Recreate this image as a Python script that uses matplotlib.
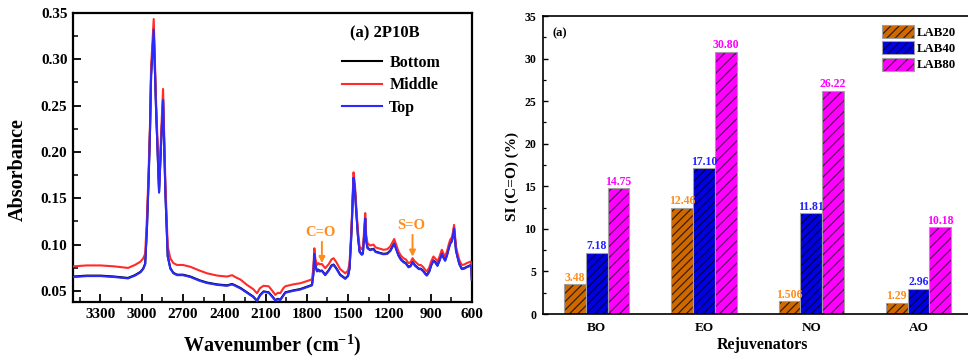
import matplotlib
matplotlib.use("Agg")
import matplotlib.pyplot as plt
from matplotlib.colors import to_rgba
from matplotlib.ticker import MultipleLocator

plt.rcParams['font.family'] = ['Liberation Serif', 'DejaVu Serif']
plt.rcParams['font.weight'] = 'bold'
plt.rcParams['axes.labelweight'] = 'bold'
plt.rcParams['hatch.linewidth'] = 0.9
plt.rcParams['mathtext.fontset'] = 'custom'
plt.rcParams['mathtext.rm'] = 'Liberation Serif:bold'
plt.rcParams['mathtext.bf'] = 'Liberation Serif:bold'
plt.rcParams['mathtext.it'] = 'Liberation Serif:bold:italic'

# ---------------- FTIR spectra (left panel) ----------------
wavenumber = [3500, 3400, 3300, 3200, 3100, 3050, 3010, 2990, 2975, 2962, 2950, 2940,
              2932, 2913, 2896, 2874, 2859, 2845, 2828, 2811, 2792, 2770, 2743, 2700,
              2646, 2580, 2525, 2450, 2380, 2343, 2320, 2280, 2235, 2190, 2162, 2140,
              2114, 2077, 2050, 2029, 2010, 1993, 1970, 1956, 1900, 1847, 1790, 1762,
              1752, 1745, 1738, 1726, 1715, 1707, 1690, 1666, 1640, 1620, 1605, 1585,
              1557, 1520, 1500, 1489, 1478, 1472, 1460, 1450, 1440, 1428, 1416, 1400,
              1392, 1383, 1375, 1368, 1358, 1340, 1315, 1300, 1278, 1242, 1215, 1193,
              1175, 1164, 1150, 1133, 1115, 1097, 1080, 1060, 1045, 1031, 1015, 1000,
              985, 971, 955, 940, 927, 910, 895, 879, 865, 850, 835, 818,
              805, 794, 780, 768, 758, 745, 735, 729, 722, 715, 704, 690,
              673, 655, 637, 620, 608, 603, 600]

middle_abs = [0.0765, 0.0775, 0.0775, 0.0765, 0.0748, 0.0780, 0.0815, 0.0850, 0.0900, 0.1300, 0.1800, 0.2300,
              0.2920, 0.3435, 0.2560, 0.1630, 0.2200, 0.2680, 0.1660, 0.0980, 0.0850, 0.0800, 0.0780, 0.0780,
              0.0760, 0.0720, 0.0690, 0.0665, 0.0655, 0.0670, 0.0650, 0.0620, 0.0565, 0.0520, 0.0475, 0.0530,
              0.0555, 0.0550, 0.0500, 0.0457, 0.0480, 0.0475, 0.0530, 0.0550, 0.0570, 0.0583, 0.0610, 0.0626,
              0.0750, 0.0960, 0.0850, 0.0780, 0.0800, 0.0788, 0.0790, 0.0745, 0.0790, 0.0840, 0.0853, 0.0810,
              0.0735, 0.0690, 0.0720, 0.0800, 0.1100, 0.1300, 0.1780, 0.1650, 0.1410, 0.1150, 0.0980, 0.0950,
              0.0960, 0.1150, 0.1340, 0.1100, 0.1015, 0.0990, 0.1000, 0.0970, 0.0960, 0.0944, 0.0950, 0.0980,
              0.1030, 0.1060, 0.1000, 0.0925, 0.0880, 0.0853, 0.0840, 0.0800, 0.0810, 0.0853, 0.0820, 0.0800,
              0.0780, 0.0780, 0.0760, 0.0730, 0.0710, 0.0750, 0.0820, 0.0871, 0.0850, 0.0817, 0.0870, 0.0944,
              0.0900, 0.0871, 0.0930, 0.1000, 0.1050, 0.1080, 0.1150, 0.1213, 0.1100, 0.0980, 0.0907, 0.0830,
              0.0780, 0.0785, 0.0800, 0.0810, 0.0817, 0.0780, 0.0655]

top_abs = [0.0650, 0.0660, 0.0660, 0.0650, 0.0635, 0.0665, 0.0700, 0.0735, 0.0790, 0.1180, 0.1700, 0.2220,
           0.2820, 0.3320, 0.2460, 0.1560, 0.2100, 0.2560, 0.1550, 0.0870, 0.0740, 0.0690, 0.0670, 0.0670,
           0.0650, 0.0610, 0.0585, 0.0565, 0.0555, 0.0570, 0.0555, 0.0525, 0.0480, 0.0435, 0.0390, 0.0450,
           0.0490, 0.0480, 0.0435, 0.0395, 0.0410, 0.0400, 0.0450, 0.0480, 0.0500, 0.0515, 0.0545, 0.0560,
           0.0680, 0.0900, 0.0780, 0.0710, 0.0725, 0.0710, 0.0715, 0.0670, 0.0720, 0.0770, 0.0780, 0.0740,
           0.0670, 0.0630, 0.0660, 0.0740, 0.1040, 0.1240, 0.1720, 0.1590, 0.1350, 0.1090, 0.0920, 0.0890,
           0.0900, 0.1090, 0.1280, 0.1040, 0.0960, 0.0940, 0.0950, 0.0920, 0.0910, 0.0895, 0.0900, 0.0930,
           0.0980, 0.1010, 0.0950, 0.0880, 0.0835, 0.0810, 0.0795, 0.0755, 0.0765, 0.0810, 0.0775, 0.0755,
           0.0735, 0.0735, 0.0715, 0.0685, 0.0665, 0.0705, 0.0775, 0.0825, 0.0805, 0.0770, 0.0825, 0.0900,
           0.0855, 0.0825, 0.0885, 0.0955, 0.1005, 0.1035, 0.1110, 0.1175, 0.1055, 0.0935, 0.0865, 0.0785,
           0.0735, 0.0740, 0.0755, 0.0765, 0.0775, 0.0740, 0.0620]

bottom_abs = [0.0655, 0.0665, 0.0665, 0.0655, 0.0640, 0.0670, 0.0705, 0.0740, 0.0795, 0.1190, 0.1710, 0.2230,
              0.2830, 0.3330, 0.2470, 0.1570, 0.2110, 0.2570, 0.1560, 0.0875, 0.0745, 0.0695, 0.0675, 0.0675,
              0.0655, 0.0615, 0.0590, 0.0570, 0.0560, 0.0575, 0.0560, 0.0530, 0.0485, 0.0440, 0.0395, 0.0455,
              0.0495, 0.0485, 0.0440, 0.0400, 0.0415, 0.0405, 0.0455, 0.0485, 0.0505, 0.0520, 0.0550, 0.0565,
              0.0685, 0.0905, 0.0785, 0.0715, 0.0730, 0.0715, 0.0720, 0.0675, 0.0725, 0.0775, 0.0785, 0.0745,
              0.0675, 0.0635, 0.0665, 0.0745, 0.1045, 0.1245, 0.1725, 0.1595, 0.1355, 0.1095, 0.0925, 0.0895,
              0.0905, 0.1095, 0.1285, 0.1045, 0.0965, 0.0945, 0.0955, 0.0925, 0.0915, 0.0900, 0.0905, 0.0935,
              0.0985, 0.1015, 0.0955, 0.0885, 0.0840, 0.0815, 0.0800, 0.0760, 0.0770, 0.0815, 0.0780, 0.0760,
              0.0740, 0.0740, 0.0720, 0.0690, 0.0670, 0.0710, 0.0780, 0.0830, 0.0810, 0.0775, 0.0830, 0.0905,
              0.0860, 0.0830, 0.0890, 0.0960, 0.1010, 0.1040, 0.1115, 0.1180, 0.1060, 0.0940, 0.0870, 0.0790,
              0.0740, 0.0745, 0.0760, 0.0770, 0.0780, 0.0745, 0.0625]

series_names = ['Bottom', 'Middle', 'Top']
panel_a_title = '(a) 2P10B'
band_labels = ['C=O', 'S=O']
band_positions = [1690, 1031]

# ---------------- Bar chart (right panel) ----------------
rejuvenators = ['BO', 'EO', 'NO', 'AO']
lab_names = ['LAB20', 'LAB40', 'LAB80']
lab20 = [3.48, 12.46, 1.506, 1.29]
lab40 = [7.18, 17.10, 11.81, 2.96]
lab80 = [14.75, 30.80, 26.22, 10.18]
lab20_text = ['3.48', '12.46', '1.506', '1.29']
lab40_text = ['7.18', '17.10', '11.81', '2.96']
lab80_text = ['14.75', '30.80', '26.22', '10.18']

fig = plt.figure(figsize=(9.68, 3.57), dpi=100)

# ===== Left panel =====
ax1 = fig.add_axes([0.0754, 0.154, 0.412, 0.8095])
ax1.plot(wavenumber, bottom_abs, color='black', lw=1.5, label=series_names[0], zorder=2)
ax1.plot(wavenumber, middle_abs, color='#FF2A2A', lw=1.5, label=series_names[1], zorder=3)
ax1.plot(wavenumber, top_abs, color='#2A2AFF', lw=1.5, label=series_names[2], zorder=4)
ax1.set_xlim(3500, 600)
ax1.set_ylim(0.038, 0.35)
ax1.xaxis.set_major_locator(MultipleLocator(300))
ax1.xaxis.set_minor_locator(MultipleLocator(150))
ax1.yaxis.set_minor_locator(MultipleLocator(0.025))
ax1.set_yticks([0.05, 0.10, 0.15, 0.20, 0.25, 0.30, 0.35])
ax1.set_yticklabels(['0.05', '0.10', '0.15', '0.20', '0.25', '0.30', '0.35'])
ax1.tick_params(which='major', direction='in', length=6, width=1.3, labelsize=11, pad=4)
ax1.tick_params(which='minor', direction='in', length=3.5, width=1.1)
ax1.tick_params(top=False, right=False, which='both')
for sp in ax1.spines.values():
    sp.set_linewidth(1.6)
ax1.set_xlabel('Wavenumber (cm$^{-1}$)', fontsize=14.5, fontweight='bold')
ax1.set_ylabel('Absorbance', fontsize=14.5, fontweight='bold')
ax1.xaxis.set_label_coords(0.50, -0.105)
ax1.yaxis.set_label_coords(-0.114, 0.457)

ax1.text(0.694, 0.93, panel_a_title, transform=ax1.transAxes, fontsize=12,
         fontweight='bold', ha='left', va='center')
leg1 = ax1.legend(loc='upper left', bbox_to_anchor=(0.675, 0.855), frameon=False,
                  fontsize=11.5, handlelength=2.5, handletextpad=0.45, labelspacing=0.4,
                  borderpad=0, borderaxespad=0)

orange = '#FF8C1A'
label_y = [0.113, 0.1207]
arrow_top = [0.103, 0.1105]
arrow_tip = [0.080, 0.087]
for name, wn, ty, at, ab in zip(band_labels, band_positions, label_y, arrow_top, arrow_tip):
    ax1.text(wn + 8, ty, name, color=orange, fontsize=10.5, fontweight='bold',
             ha='center', va='center')
    ax1.annotate('', xy=(wn, ab), xytext=(wn, at),
                 arrowprops=dict(arrowstyle='-|>', color=orange, lw=1.4,
                                 mutation_scale=9, shrinkA=0, shrinkB=0))

# ===== Right panel =====
ax2 = fig.add_axes([0.561, 0.1204, 0.4432, 0.8347])
x = list(range(len(rejuvenators)))
width = 0.203
face_colors = ['#D06800', '#0000E0', '#FF00FF']
hatch_colors = ['#3A2000', '#000050', '#600060']
text_colors = ['#FF8C1A', '#2020FF', '#FF00FF']
hatches = ['////', '////', '///']
all_vals = [lab20, lab40, lab80]
all_text = [lab20_text, lab40_text, lab80_text]
for i, (vals, name) in enumerate(zip(all_vals, lab_names)):
    pos = [xi + (i - 1) * width for xi in x]
    bars = ax2.bar(pos, vals, width=width, color=face_colors[i], edgecolor='#A0A0A0',
                   linewidth=0.8, hatch=hatches[i], label=name, zorder=2)
    for p in bars:
        p._hatch_color = to_rgba(hatch_colors[i])
        p.stale = True
    ax2.bar_label(bars, labels=all_text[i], padding=0.5, color=text_colors[i],
                  fontsize=8.5, fontweight='bold')

ax2.set_xlim(-0.5, 3.5)
ax2.set_ylim(0, 35)
ax2.set_xticks(x)
ax2.set_xticklabels(rejuvenators)
ax2.yaxis.set_major_locator(MultipleLocator(5))
ax2.yaxis.set_minor_locator(MultipleLocator(2.5))
ax2.tick_params(axis='x', length=0, labelsize=9.5, pad=6)
ax2.tick_params(axis='y', which='major', direction='in', length=3.5, width=1.0, labelsize=8.5, pad=5)
ax2.tick_params(axis='y', which='minor', direction='in', length=2, width=0.9)
ax2.tick_params(top=False, right=False, which='both')
for sp in ax2.spines.values():
    sp.set_linewidth(1.2)
ax2.set_xlabel('Rejuvenators', fontsize=11.5, fontweight='bold')
ax2.set_ylabel('SI (C=O) (%)', fontsize=11, fontweight='bold')
ax2.xaxis.set_label_coords(0.512, -0.078)
ax2.yaxis.set_label_coords(-0.056, 0.461)
ax2.text(0.022, 0.943, '(a)', transform=ax2.transAxes, fontsize=9, fontweight='bold',
         ha='left', va='center')
leg2 = ax2.legend(loc='upper left', bbox_to_anchor=(0.79, 0.97), frameon=False, fontsize=9.3,
                  handlelength=2.45, handleheight=1.15, handletextpad=0.25, labelspacing=0.2,
                  borderpad=0, borderaxespad=0)

fig.savefig('out.png', dpi=100)
